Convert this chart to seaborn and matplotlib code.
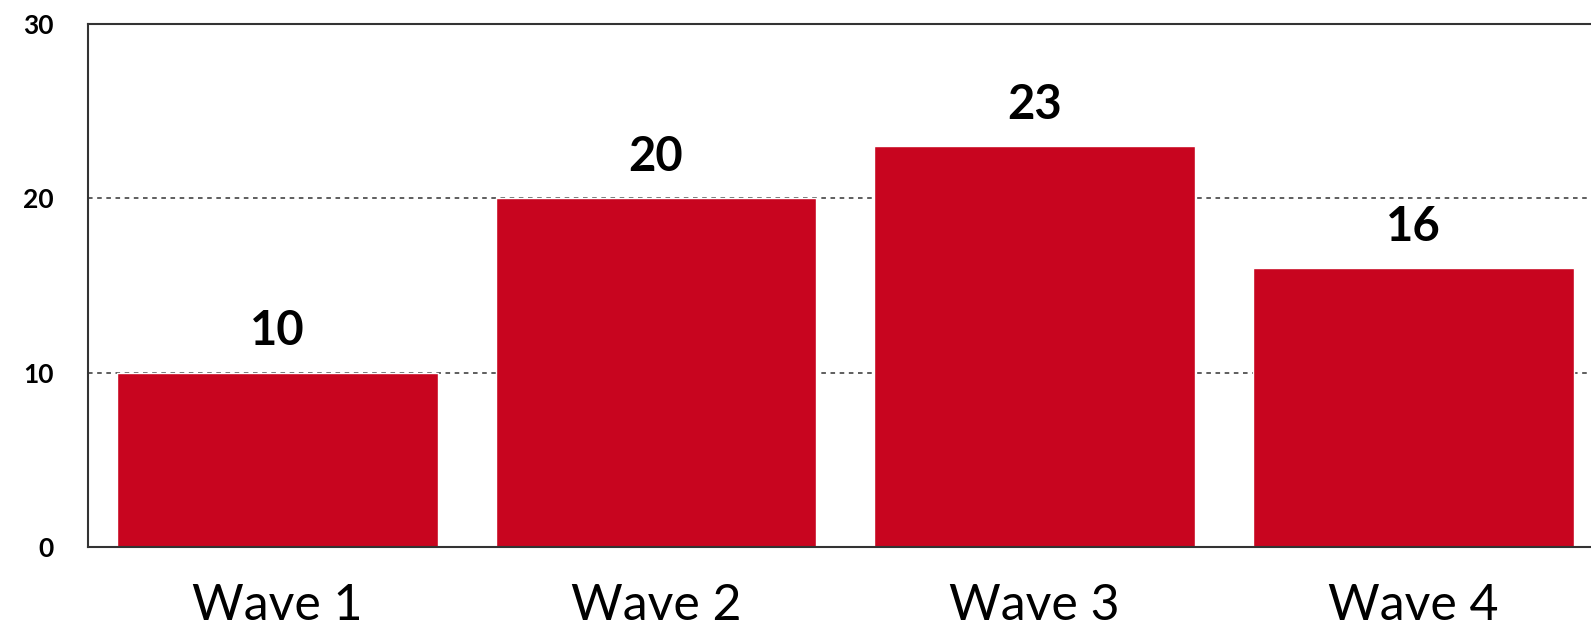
import matplotlib
matplotlib.use("Agg")
import matplotlib.pyplot as plt
import seaborn as sns
import pandas as pd

categories = ["Wave 1", "Wave 2", "Wave 3", "Wave 4"]
values = [10, 20, 23, 16]
y_ticks = [0, 10, 20, 30]

bar_color = "#C8051F"
spine_color = "#333333"

sns.set_theme(style="white")
plt.rcParams["font.family"] = ["Lato", "DejaVu Sans"]

df = pd.DataFrame({"wave": categories, "value": values})

fig = plt.figure(figsize=(15.91, 6.27), dpi=100)
ax = fig.add_axes([0.0553, 0.1276, 0.952, 0.8341])

sns.barplot(data=df, x="wave", y="value", color=bar_color, saturation=1,
            width=0.847, ax=ax)

ax.set_xlim(-0.5, 3.5)
ax.set_ylim(0, 30)
ax.set_yticks(y_ticks)
ax.set_yticklabels([str(t) for t in y_ticks], fontsize=19, fontweight="bold")
ax.set_xlabel("")
ax.set_ylabel("")
ax.tick_params(axis="x", length=0, pad=26, labelsize=36, labelcolor="black")
ax.tick_params(axis="y", length=0, pad=25, labelcolor="black")

for t in y_ticks[1:-1]:
    ax.axhline(t, color=spine_color, lw=1.1, ls=(0, (3, 3)), zorder=0)

for s in ["left", "top", "bottom"]:
    ax.spines[s].set_visible(True)
    ax.spines[s].set_color(spine_color)
    ax.spines[s].set_linewidth(1.5)
ax.spines["right"].set_visible(False)

for p, v in zip(ax.patches, values):
    ax.annotate(str(v), (p.get_x() + p.get_width() / 2, v),
                xytext=(0, 14), textcoords="offset points",
                ha="center", va="bottom", fontsize=34, fontweight="bold",
                color="black")

fig.savefig("out.png", dpi=100)
